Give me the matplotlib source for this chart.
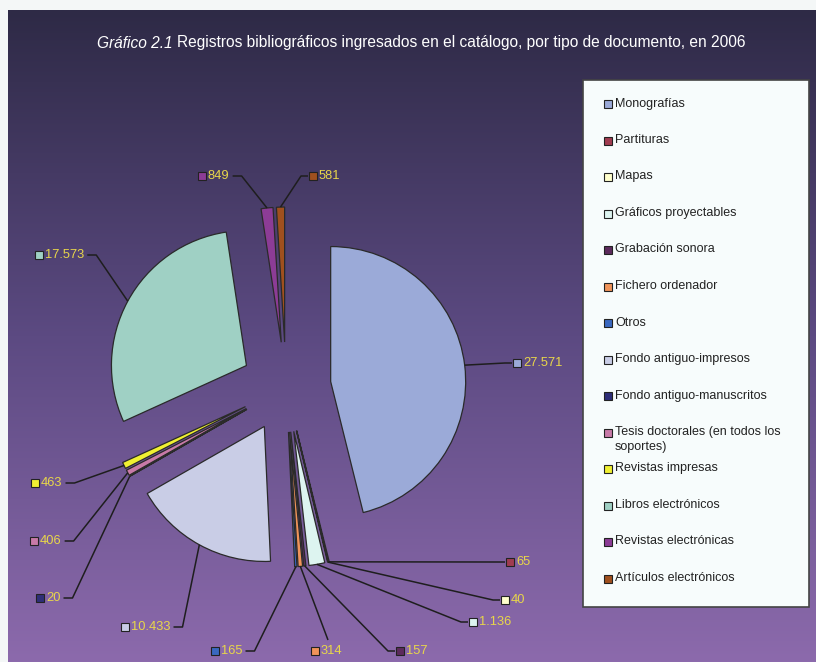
import numpy as np
import matplotlib.pyplot as plt
from matplotlib.colors import LinearSegmentedColormap
from matplotlib.patches import Rectangle

plt.rcParams['font.family'] = ['Liberation Sans', 'DejaVu Sans']

categories = ['Monografías', 'Partituras', 'Mapas', 'Gráficos proyectables',
              'Grabación sonora', 'Fichero ordenador', 'Otros',
              'Fondo antiguo-impresos', 'Fondo antiguo-manuscritos',
              'Tesis doctorales (en todos los\nsoportes)', 'Revistas impresas',
              'Libros electrónicos', 'Revistas electrónicas', 'Artículos electrónicos']
values = [27571, 65, 40, 1136, 157, 314, 165, 10433, 20, 406, 463, 17573, 849, 581]
colors = ['#9baad8', '#a03c50', '#ffffcc', '#ddf4f0', '#5c2a5c', '#f0945a', '#3a68c0',
          '#c9cde6', '#2e2e78', '#c87aa8', '#f0f032', '#9fd0c4', '#8c3c96', '#a0501e']

W, H = 816, 662


def py(y):
    # pixel row (from top) -> data y (from bottom)
    return H - y


def fmt(v):
    return f'{v:,}'.replace(',', '.')


# where each value label sits (square marker centre, pixels) and how its leader attaches
label_pos = [(517, 363), (510, 562), (505, 600), (473, 622), (400, 651), (315, 651),
             (215, 651), (125, 627), (40, 598), (34, 541), (35, 483), (39, 255),
             (202, 176), (313, 176)]
label_side = ['R', 'R', 'R', 'R', 'R', 'T', 'L', 'L', 'L', 'L', 'L', 'L', 'L', 'R']

fig = plt.figure(figsize=(8.16, 6.62), dpi=100, facecolor='#f4f7f7')
ax = fig.add_axes([0, 0, 1, 1])

# background gradient
grad = np.linspace(0, 1, 256).reshape(-1, 1)
bg = LinearSegmentedColormap.from_list('bg', ['#8c6aac', '#5c4a82', '#2e2a46'])
ax.imshow(grad, extent=[8, W, 0, py(10)], origin='lower', cmap=bg, aspect='auto', zorder=0)

wedges, _ = ax.pie(values, colors=colors, startangle=90, counterclock=False,
                   explode=[45] * len(values), radius=135, center=(286, py(387)),
                   wedgeprops=dict(edgecolor='#2a2a2a', linewidth=0.9, zorder=2))

ax.set_xlim(0, W)
ax.set_ylim(0, H)
ax.set_aspect('equal')
ax.axis('off')

# value labels
texts = []
for v, c, (sx, sy) in zip(values, colors, label_pos):
    ax.plot(sx, py(sy), marker='s', ms=5.2, mfc=c, mec='#222222', mew=0.8, zorder=5)
    t = ax.text(sx + 6, py(sy), fmt(v), color='#e8d64a', fontsize=9.3,
                ha='left', va='center', zorder=5)
    texts.append(t)

fig.canvas.draw()
renderer = fig.canvas.get_renderer()
inv = ax.transData.inverted()

for w, t, (sx, sy), side in zip(wedges, texts, label_pos, label_side):
    m = np.deg2rad((w.theta1 + w.theta2) / 2)
    x0 = w.center[0] + w.r * np.cos(m)
    y0 = w.center[1] + w.r * np.sin(m)
    if side == 'R':
        xs = [x0, sx - 12, sx - 5]
        ys = [y0, py(sy), py(sy)]
    elif side == 'L':
        right = inv.transform(t.get_window_extent(renderer))[1][0]
        xs = [x0, right + 12, right + 3]
        ys = [y0, py(sy), py(sy)]
    else:
        xs = [x0, sx + 13]
        ys = [y0, py(sy) + 11]
    ax.plot(xs, ys, color='#1e1e1e', lw=1.1, zorder=4, solid_capstyle='butt')

# legend box
ax.add_patch(Rectangle((583, py(607)), 226, 527, facecolor='#f7fcfc',
                       edgecolor='#444444', lw=1.2, zorder=3))
row0, step = 104, 36.5
for i, (cat, c) in enumerate(zip(categories, colors)):
    ry = row0 + i * step
    ax.plot(608, py(ry), marker='s', ms=6.3, mfc=c, mec='#222222', mew=0.8, zorder=5)
    ax.text(615, py(ry) + 6.5, cat, fontsize=9, color='#222222',
            ha='left', va='top', zorder=5, linespacing=1.35)

# title
t1 = ax.text(97, py(43), 'Gráfico 2.1', color='white', fontsize=11.2,
             style='italic', ha='left', va='center')
fig.canvas.draw()
x1 = inv.transform(t1.get_window_extent(renderer))[1][0]
ax.text(x1 + 4, py(43),
        'Registros bibliográficos ingresados en el catálogo, por tipo de documento, en 2006',
        color='white', fontsize=11.2, ha='left', va='center')

fig.savefig('out.png', dpi=100, facecolor=fig.get_facecolor())
